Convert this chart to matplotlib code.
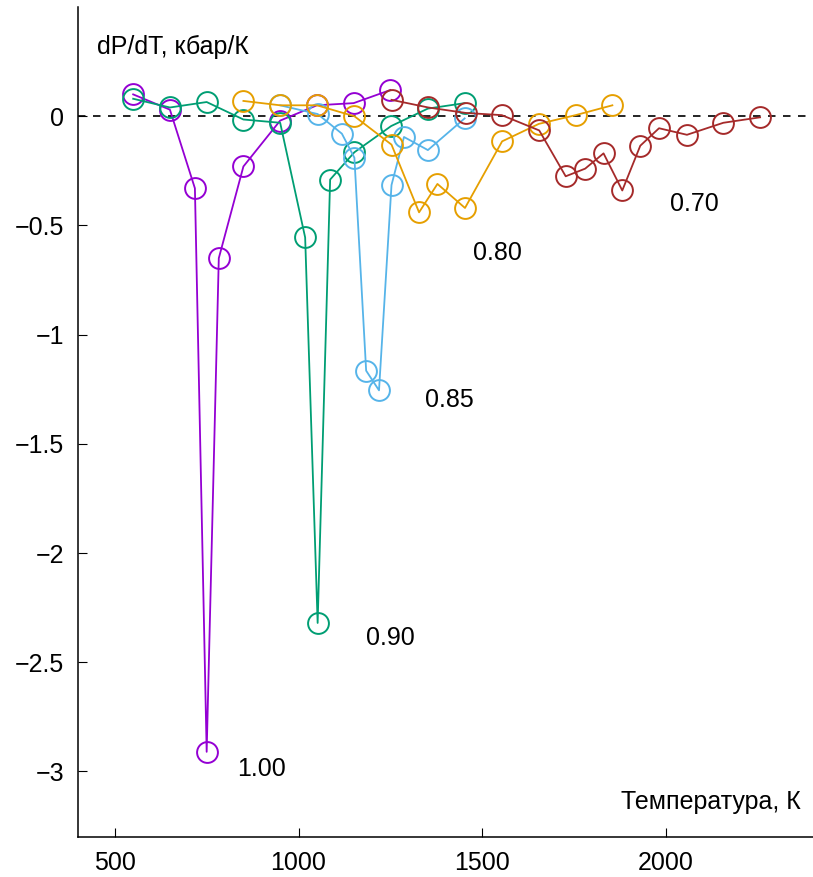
import matplotlib
matplotlib.use("Agg")
import matplotlib.pyplot as plt

plt.rcParams['font.family'] = ['Liberation Sans', 'DejaVu Sans']

# x = 1.00
t_100 = [550, 650, 718, 750, 783, 850, 950, 1050, 1150, 1250]
v_100 = [0.10, 0.03, -0.33, -2.91, -0.65, -0.23, -0.02, 0.05, 0.06, 0.12]

# x = 0.90
t_090 = [550, 650, 750, 850, 950, 1018, 1052, 1086, 1152, 1252, 1352, 1452]
v_090 = [0.08, 0.04, 0.065, -0.015, -0.03, -0.555, -2.32, -0.29, -0.165, -0.045, 0.035, 0.06]

# x = 0.85
t_085 = [950, 1052, 1118, 1152, 1184, 1219, 1253, 1287, 1352, 1452]
v_085 = [0.05, 0.01, -0.08, -0.19, -1.165, -1.255, -0.315, -0.095, -0.155, -0.01]

# x = 0.80
t_080 = [850, 950, 1050, 1152, 1253, 1328, 1378, 1453, 1554, 1654, 1754, 1854]
v_080 = [0.07, 0.05, 0.05, 0.0, -0.13, -0.44, -0.31, -0.42, -0.115, -0.035, 0.005, 0.05]

# x = 0.70
t_070 = [1253, 1353, 1455, 1553, 1655, 1727, 1780, 1830, 1881, 1930, 1981, 2057, 2156, 2256]
v_070 = [0.075, 0.04, 0.015, 0.005, -0.065, -0.275, -0.24, -0.17, -0.34, -0.135, -0.055, -0.085, -0.03, -0.005]

series = [
    (t_100, v_100, '#9400d3'),
    (t_090, v_090, '#009e73'),
    (t_085, v_085, '#56b4e9'),
    (t_080, v_080, '#e69f00'),
    (t_070, v_070, '#a52a2a'),
]

labels = ['1.00', '0.90', '0.85', '0.80', '0.70']
label_x = [833, 1184, 1345, 1476, 2010]
label_y = [-2.99, -2.387, -1.30, -0.625, -0.40]

fig = plt.figure(figsize=(8.13, 8.77), dpi=100)
ax = fig.add_axes([0.096, 0.0456, 0.904, 0.9464])

ax.axhline(0, color='black', lw=1.2, dashes=(4.5, 4.5), zorder=1)

for t, v, c in series:
    ax.plot(t, v, color=c, lw=1.3, marker='o', ms=15, mfc='none',
            mec=c, mew=1.4, zorder=2)

for lab, lx, ly in zip(labels, label_x, label_y):
    ax.text(lx, ly, lab, fontsize=18, ha='left', va='center')

ax.text(452, 0.316, 'dP/dT, кбар/К', fontsize=18, ha='left', va='center')
ax.text(2366, -3.14, 'Температура, К', fontsize=18, ha='right', va='center')

ax.set_xlim(400, 2400)
ax.set_ylim(-3.3, 0.5)
ax.set_xticks([500, 1000, 1500, 2000])
ax.set_yticks([0, -0.5, -1, -1.5, -2, -2.5, -3])
ax.set_yticklabels(['0', '\u22120.5', '\u22121', '\u22121.5', '\u22122', '\u22122.5', '\u22123'])

ax.spines['top'].set_visible(False)
ax.spines['right'].set_visible(False)
ax.spines['left'].set_linewidth(1.1)
ax.spines['bottom'].set_linewidth(1.1)
ax.tick_params(direction='in', length=6.5, width=0.8, labelsize=18, pad=10)

fig.savefig('out.png', dpi=100)
